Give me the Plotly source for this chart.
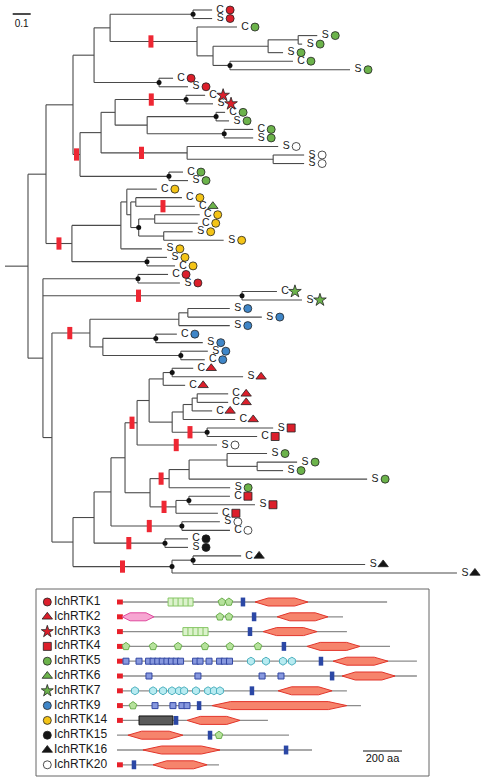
import re
import plotly.graph_objects as go

# ---------------------------------------------------------------- tree data
# Newick tree; leaf names "<label>-<RTK id>", tags after '#':
#   d = black dot on node, b<f> = red bar at fraction f of the branch
TREE_NEWICK = """
(
 (
  (
   (
    (
     (C-1:0.106,S-1:0.106)#d:0.461,
     (C-5:0.222,
       (
        ((S-5:0.106,S-5:0.022):0.167,S-5:0.083):0.306,
        (C-5:0.350,S-5:0.667)#d:0.094
       ):0.089
     )#b0.47:0.483
    ):0.089,
    (C-1:0.078,S-1:0.161)#d:0.361
   ):0.117,
   (
    (
     (
      (C-3:0.106,S-3:0.150)#db0.51:0.394,
      (
       (C-5:0.050,S-5:0.072)#d:0.383,
       (C-5:0.161,S-5:0.161)#d:0.428
      ):0.178
     ):0.078,
     (S-20:0.506,(S-20:0.172,S-20:0.172):0.478)#b0.47:0.478
    ):0.117,
    (C-5:0.078,S-5:0.106)#d:0.494
   )#b0.5:0.039
  ):0.150,
  (
   (
    (
     C-14:0.167,
     (
      (C-14:0.256,C-6#b0.46:0.328):0.028,
      (
       (C-14:0.250,C-14:0.239):0.089,
       (S-14:0.161,S-14:0.333):0.139
      )#d:0.044
     ):0.022
    ):0.033,
    S-14:0.228
   ):0.272,
   (S-14:0.111,C-14:0.156)#d:0.417
  )#b0.5:0.144
 ):0.100,
 (
  (C-1:0.167,S-1:0.233)#d:0.528,
  (C-7:0.194,S-7:0.333)#db0.48:1.106,
  (
   (
    ((S-9:0.233,S-9:0.411):0.050,S-9:0.283):0.494,
    ((C-9:0.117,S-9:0.261)#d:0.294,(S-9:0.150,C-9:0.133)#d:0.433):0.072
   )#b0.47:0.211,
   (
    (
     (
      (
       (
        (
         ((C-2:0.117,S-2:0.394)#d:0.050,C-2:0.122):0.078,
         (
          (((C-2:0.172,C-2:0.172):0.028,C-2:0.111):0.050,C-2:0.289):0.061,
          (S-4:0.367,C-4:0.278)#db0.51:0.194
         ):0.128
        ):0.067,
        S-20#b0.49:0.444
       )#b0.58:0.067,
       (
        (((S-5:0.222,(S-5:0.222,S-5:0.144):0.167):0.211,S-5:0.989):0.111,S-5:0.339)#b0.58:0.106,
        ((C-4:0.228,S-4:0.367)#d:0.072,C-4:0.233)#b0.54:0.144
       ):0.139
      ):0.078,
      (S-20:0.211,C-20:0.267)#db0.54:0.394
     ):0.094,
     (C-15:0.128,S-15:0.128)#db0.49:0.394
    ):0.117,
    ((C-16:0.267,S-16:0.956)#d:0.117,S-16:1.583)#db0.5:0.550
   ):0.117
  ):0.050
 ):0.083
):0.128;
"""

SCALE_BAR_LEN = 0.1

# ---------------------------------------------------------------- legend data
rtk_ids = [1, 2, 3, 4, 5, 6, 7, 9, 14, 15, 16, 20]
rtk_names = ["IchRTK1", "IchRTK2", "IchRTK3", "IchRTK4", "IchRTK5", "IchRTK6",
             "IchRTK7", "IchRTK9", "IchRTK14", "IchRTK15", "IchRTK16", "IchRTK20"]
rtk_symbols = ["circle", "triangle-up", "star", "square", "circle", "triangle-up",
               "star", "circle", "circle", "circle", "triangle-up", "circle"]

protein_length_aa = [1385, 1159, 1179, 1400, 1538, 1538, 1179, 1251, 774, 882, 1000, 523]
has_signal_peptide = [1, 1, 1, 1, 1, 1, 1, 1, 1, 0, 0, 1]
tm_aa = [646, 703, 682, 856, 1046, 1103, 692, 421, 303, 477, 867, 87]
kinase_start_aa = [708, 821, 749, 974, 1108, 1154, 826, 487, 359, 56, 133, 185]
kinase_end_aa = [979, 1082, 1026, 1246, 1390, 1426, 1103, 1179, 631, 338, 528, 462]

striped_row = [0, 2]
striped_start_aa = [262, 338]
striped_end_aa = [390, 467]

pentagon_row = [0, 0, 1, 1, 3, 3, 3, 3, 3, 3, 7, 9]
pentagon_aa = [538, 574, 528, 574, 46, 185, 313, 451, 579, 723, 82, 523]

ig_row = [4] * 16 + [5] * 4 + [7] * 4
ig_aa = [46, 113, 162, 185, 209, 232, 256, 279, 303, 326, 403, 426, 472, 526, 551, 577,
         164, 415, 744, 841,
         195, 287, 333, 359]

hexagon_row = [4] * 4 + [6] * 10
hexagon_aa = [687, 764, 851, 897,
              92, 185, 236, 282, 318, 344, 405, 467, 497, 528]

pink_row, pink_start_aa, pink_end_aa = [1], [26], [190]
grey_box_row, grey_box_start_aa, grey_box_end_aa = [8], [113], [287]

SCALE_AA = 200

# ---------------------------------------------------------------- styles
W, H = 483, 781
RED = "#dc1f2b"
GREEN = "#6cb34b"
BLUE = "#3f86c8"
YELLOW = "#f4c417"
BLACK = "#151515"
WHITE = "#ffffff"
rtk_colors = [RED, RED, RED, RED, GREEN, GREEN, GREEN, BLUE, YELLOW, BLACK, BLACK, WHITE]
sym_size = {"circle": 8, "triangle-up": 9, "star": 9.5, "square": 8}
leg_size = {"circle": 8, "triangle-up": 9, "star": 9, "square": 8}
FONT = "Liberation Sans, Arial, Helvetica, sans-serif"

# tree pixel mapping
ROOT_PX, PX_PER_UNIT = 28.0, 180.0
TOP_PX, LEAF_PX = 10.0, 8.53
# legend pixel mapping
AA0_PX, PX_PER_AA = 117.0, 0.195
ROW0_PX, ROW_PX = 602.0, 14.8


# ---------------------------------------------------------------- parse tree
def parse_newick(text):
    s = "".join(text.split())
    pos = 0

    def node():
        nonlocal pos
        nd = {"children": [], "name": "", "length": 0.0}
        if s[pos] == "(":
            pos += 1
            while True:
                nd["children"].append(node())
                if s[pos] == ",":
                    pos += 1
                    continue
                if s[pos] == ")":
                    pos += 1
                    break
        st = pos
        while s[pos] not in ":,();":
            pos += 1
        nd["name"] = s[st:pos]
        if s[pos] == ":":
            pos += 1
            st = pos
            while s[pos] not in ",();":
                pos += 1
            nd["length"] = float(s[st:pos])
        return nd

    return node()


root = parse_newick(TREE_NEWICK)
leaf_counter = [0]


def place(nd, x):
    nd["x"] = x
    base, _, tag = nd["name"].partition("#")
    nd["label"] = base
    nd["dot"] = tag.startswith("d")
    m = re.search(r"b([0-9.]+)", tag)
    nd["bar"] = float(m.group(1)) if m else None
    if nd["children"]:
        for c in nd["children"]:
            place(c, x + c["length"])
        nd["y"] = (nd["children"][0]["y"] + nd["children"][-1]["y"]) / 2.0
    else:
        nd["y"] = leaf_counter[0]
        leaf_counter[0] += 1


place(root, 0.0)

line_x, line_y = [-root["length"], 0.0, None], [root["y"], root["y"], None]
bar_x, bar_y = [], []
dot_x, dot_y = [], []
leaf_nodes = []


def collect(nd):
    if nd["children"]:
        ys = [c["y"] for c in nd["children"]]
        line_x.extend([nd["x"], nd["x"], None])
        line_y.extend([min(ys), max(ys), None])
        for c in nd["children"]:
            line_x.extend([nd["x"], c["x"], None])
            line_y.extend([c["y"], c["y"], None])
            collect(c)
    else:
        leaf_nodes.append(nd)
    if nd["dot"]:
        dot_x.append(nd["x"])
        dot_y.append(nd["y"])
    if nd["bar"] is not None:
        bx = nd["x"] - nd["length"] + nd["bar"] * nd["length"]
        bar_x.extend([bx, bx, None])
        bar_y.extend([nd["y"] - 0.72, nd["y"] + 0.72, None])


collect(root)

fig = go.Figure()

fig.add_trace(go.Scatter(x=line_x, y=line_y, mode="lines",
                         line=dict(color="#4a4a4a", width=1.1),
                         hoverinfo="skip"))
fig.add_trace(go.Scatter(x=bar_x, y=bar_y, mode="lines",
                         line=dict(color="#ee2733", width=5),
                         hoverinfo="skip"))
fig.add_trace(go.Scatter(x=dot_x, y=dot_y, mode="markers",
                         marker=dict(color="#111111", size=5),
                         hoverinfo="skip"))

LABEL_DX = 8.0 / PX_PER_UNIT
SYM_DX = 18.0 / PX_PER_UNIT
fig.add_trace(go.Scatter(
    x=[n["x"] + LABEL_DX for n in leaf_nodes],
    y=[n["y"] for n in leaf_nodes],
    text=[n["label"].split("-")[0] for n in leaf_nodes],
    mode="text", textposition="middle center",
    textfont=dict(family=FONT, size=10.5, color="#1a1a1a"),
    hoverinfo="skip"))

for rid, sym, col in zip(rtk_ids, rtk_symbols, rtk_colors):
    sel = [n for n in leaf_nodes if int(n["label"].split("-")[1]) == rid]
    if not sel:
        continue
    fig.add_trace(go.Scatter(
        x=[n["x"] + SYM_DX for n in sel], y=[n["y"] for n in sel],
        mode="markers",
        marker=dict(symbol=sym, size=sym_size[sym], color=col,
                    line=dict(color="#222222", width=0.8)),
        hoverinfo="skip"))

# tree scale bar
sb_x0 = (12.7 - ROOT_PX) / PX_PER_UNIT
fig.add_trace(go.Scatter(x=[sb_x0, sb_x0 + SCALE_BAR_LEN],
                         y=[(14 - TOP_PX) / LEAF_PX] * 2, mode="lines",
                         line=dict(color="#111111", width=1.5), hoverinfo="skip"))
fig.add_trace(go.Scatter(x=[sb_x0 + SCALE_BAR_LEN / 2], y=[(24.5 - TOP_PX) / LEAF_PX],
                         text=["0.1"], mode="text",
                         textfont=dict(family=FONT, size=10, color="#111111"),
                         hoverinfo="skip"))

# ---------------------------------------------------------------- legend panel (x2 / y2 in aa)
XA, YA = "x2", "y2"
nrows = len(rtk_names)
rows = list(range(nrows))

# baselines
bx, by = [], []
for r, L in zip(rows, protein_length_aa):
    bx += [0, L, None]
    by += [r, r, None]
fig.add_trace(go.Scatter(x=bx, y=by, mode="lines", xaxis=XA, yaxis=YA,
                         line=dict(color="#8c8c8c", width=1.3), hoverinfo="skip"))

# signal peptides
sx, sy = [], []
for r, sp in zip(rows, has_signal_peptide):
    if sp:
        sx += [0, 30, None]
        sy += [r, r, None]
fig.add_trace(go.Scatter(x=sx, y=sy, mode="lines", xaxis=XA, yaxis=YA,
                         line=dict(color="#e8202a", width=5), hoverinfo="skip"))


def lens(r, s, e, half, taper_frac=0.25, taper_max=95):
    w = e - s
    t = min(w * taper_frac, taper_max)
    return ([s, s + t, e - t, e, e - t, s + t, s],
            [r, r - half, r - half, r, r + half, r + half, r])


def add_poly(xs, ys, fill, line):
    fig.add_trace(go.Scatter(x=xs, y=ys, mode="lines", fill="toself",
                             fillcolor=fill, line=dict(color=line, width=1),
                             xaxis=XA, yaxis=YA, hoverinfo="skip"))


# pink lens
for r, s, e in zip(pink_row, pink_start_aa, pink_end_aa):
    xs, ys = lens(r, s, e, 0.27)
    add_poly(xs, ys, "#f7a6d2", "#e04b9f")

# striped boxes
for r, s, e in zip(striped_row, striped_start_aa, striped_end_aa):
    h = 0.27
    add_poly([s, e, e, s, s], [r - h, r - h, r + h, r + h, r - h], "#dcf2cc", "#86c665")
    vx, vy = [], []
    for k in range(1, 5):
        xx = s + (e - s) * k / 5
        vx += [xx, xx, None]
        vy += [r - h, r + h, None]
    fig.add_trace(go.Scatter(x=vx, y=vy, mode="lines", xaxis=XA, yaxis=YA,
                             line=dict(color="#86c665", width=1), hoverinfo="skip"))

# grey/black box
for r, s, e in zip(grey_box_row, grey_box_start_aa, grey_box_end_aa):
    h = 0.3
    add_poly([s, e, e, s, s], [r - h, r - h, r + h, r + h, r - h], "#5a5a5a", "#111111")

# kinase domains
for r, s, e in zip(rows, kinase_start_aa, kinase_end_aa):
    xs, ys = lens(r, s, e, 0.27)
    add_poly(xs, ys, "#f6846c", "#e2352b")

# pentagons
fig.add_trace(go.Scatter(x=pentagon_aa, y=pentagon_row, mode="markers", xaxis=XA, yaxis=YA,
                         marker=dict(symbol="pentagon", size=8, color="#b6e29c",
                                     line=dict(color="#6aae4c", width=1)),
                         hoverinfo="skip"))
# Ig-like squares
fig.add_trace(go.Scatter(x=ig_aa, y=ig_row, mode="markers", xaxis=XA, yaxis=YA,
                         marker=dict(symbol="square", size=6, color="#8798de",
                                     line=dict(color="#3347a3", width=1)),
                         hoverinfo="skip"))
# hexagons
fig.add_trace(go.Scatter(x=hexagon_aa, y=hexagon_row, mode="markers", xaxis=XA, yaxis=YA,
                         marker=dict(symbol="hexagon", size=8, color="#b8ebf1",
                                     line=dict(color="#4fb2c0", width=1)),
                         hoverinfo="skip"))
# TM segments
tx, ty = [], []
for r, t in zip(rows, tm_aa):
    tx += [t, t, None]
    ty += [r - 0.3, r + 0.3, None]
fig.add_trace(go.Scatter(x=tx, y=ty, mode="lines", xaxis=XA, yaxis=YA,
                         line=dict(color="#2b47a5", width=4.5), hoverinfo="skip"))

# legend symbols and names
LEG_SYM_AA = (47.3 - AA0_PX) / PX_PER_AA
LEG_TXT_AA = (54.0 - AA0_PX) / PX_PER_AA
for r, sym, col in zip(rows, rtk_symbols, rtk_colors):
    fig.add_trace(go.Scatter(x=[LEG_SYM_AA], y=[r], mode="markers", xaxis=XA, yaxis=YA,
                             marker=dict(symbol=sym, size=leg_size[sym],
                                         color=col, line=dict(color="#222222", width=0.8)),
                             hoverinfo="skip"))
fig.add_trace(go.Scatter(x=[LEG_TXT_AA] * nrows, y=rows, text=rtk_names, mode="text",
                         textposition="middle right", xaxis=XA, yaxis=YA,
                         textfont=dict(family=FONT, size=12, color="#1a1a1a"),
                         hoverinfo="skip"))

# aa scale bar
sbx0 = (363 - AA0_PX) / PX_PER_AA
sby = (751 - ROW0_PX) / ROW_PX
fig.add_trace(go.Scatter(x=[sbx0, sbx0 + SCALE_AA], y=[sby, sby], mode="lines", xaxis=XA, yaxis=YA,
                         line=dict(color="#111111", width=1.2), hoverinfo="skip"))
fig.add_trace(go.Scatter(x=[sbx0 + SCALE_AA / 2], y=[(759 - ROW0_PX) / ROW_PX], text=["200 aa"],
                         mode="text", xaxis=XA, yaxis=YA,
                         textfont=dict(family=FONT, size=11, color="#111111"),
                         hoverinfo="skip"))

# legend frame
fig.add_shape(type="rect", xref="x2", yref="y2",
              x0=(36 - AA0_PX) / PX_PER_AA, x1=(429 - AA0_PX) / PX_PER_AA,
              y0=(589 - ROW0_PX) / ROW_PX, y1=(776 - ROW0_PX) / ROW_PX,
              line=dict(color="#666666", width=1))

# ---------------------------------------------------------------- axes / layout
ax = dict(visible=False, showgrid=False, zeroline=False, fixedrange=True)
fig.update_layout(
    width=W, height=H, margin=dict(l=0, r=0, t=0, b=0),
    paper_bgcolor="white", plot_bgcolor="rgba(0,0,0,0)", showlegend=False,
    xaxis=dict(domain=[0, 1], range=[-ROOT_PX / PX_PER_UNIT, (W - ROOT_PX) / PX_PER_UNIT], **ax),
    yaxis=dict(domain=[0, 1], range=[(H - TOP_PX) / LEAF_PX, -TOP_PX / LEAF_PX], **ax),
    xaxis2=dict(domain=[0, 1], anchor="y2",
                range=[-AA0_PX / PX_PER_AA, (W - AA0_PX) / PX_PER_AA], **ax),
    yaxis2=dict(domain=[0, 1], anchor="x2",
                range=[(H - ROW0_PX) / ROW_PX, -ROW0_PX / ROW_PX], **ax),
)

fig.write_html("out.html", config={"displayModeBar": False},
               post_script="document.body.style.margin='0';document.body.style.overflow='hidden';")
